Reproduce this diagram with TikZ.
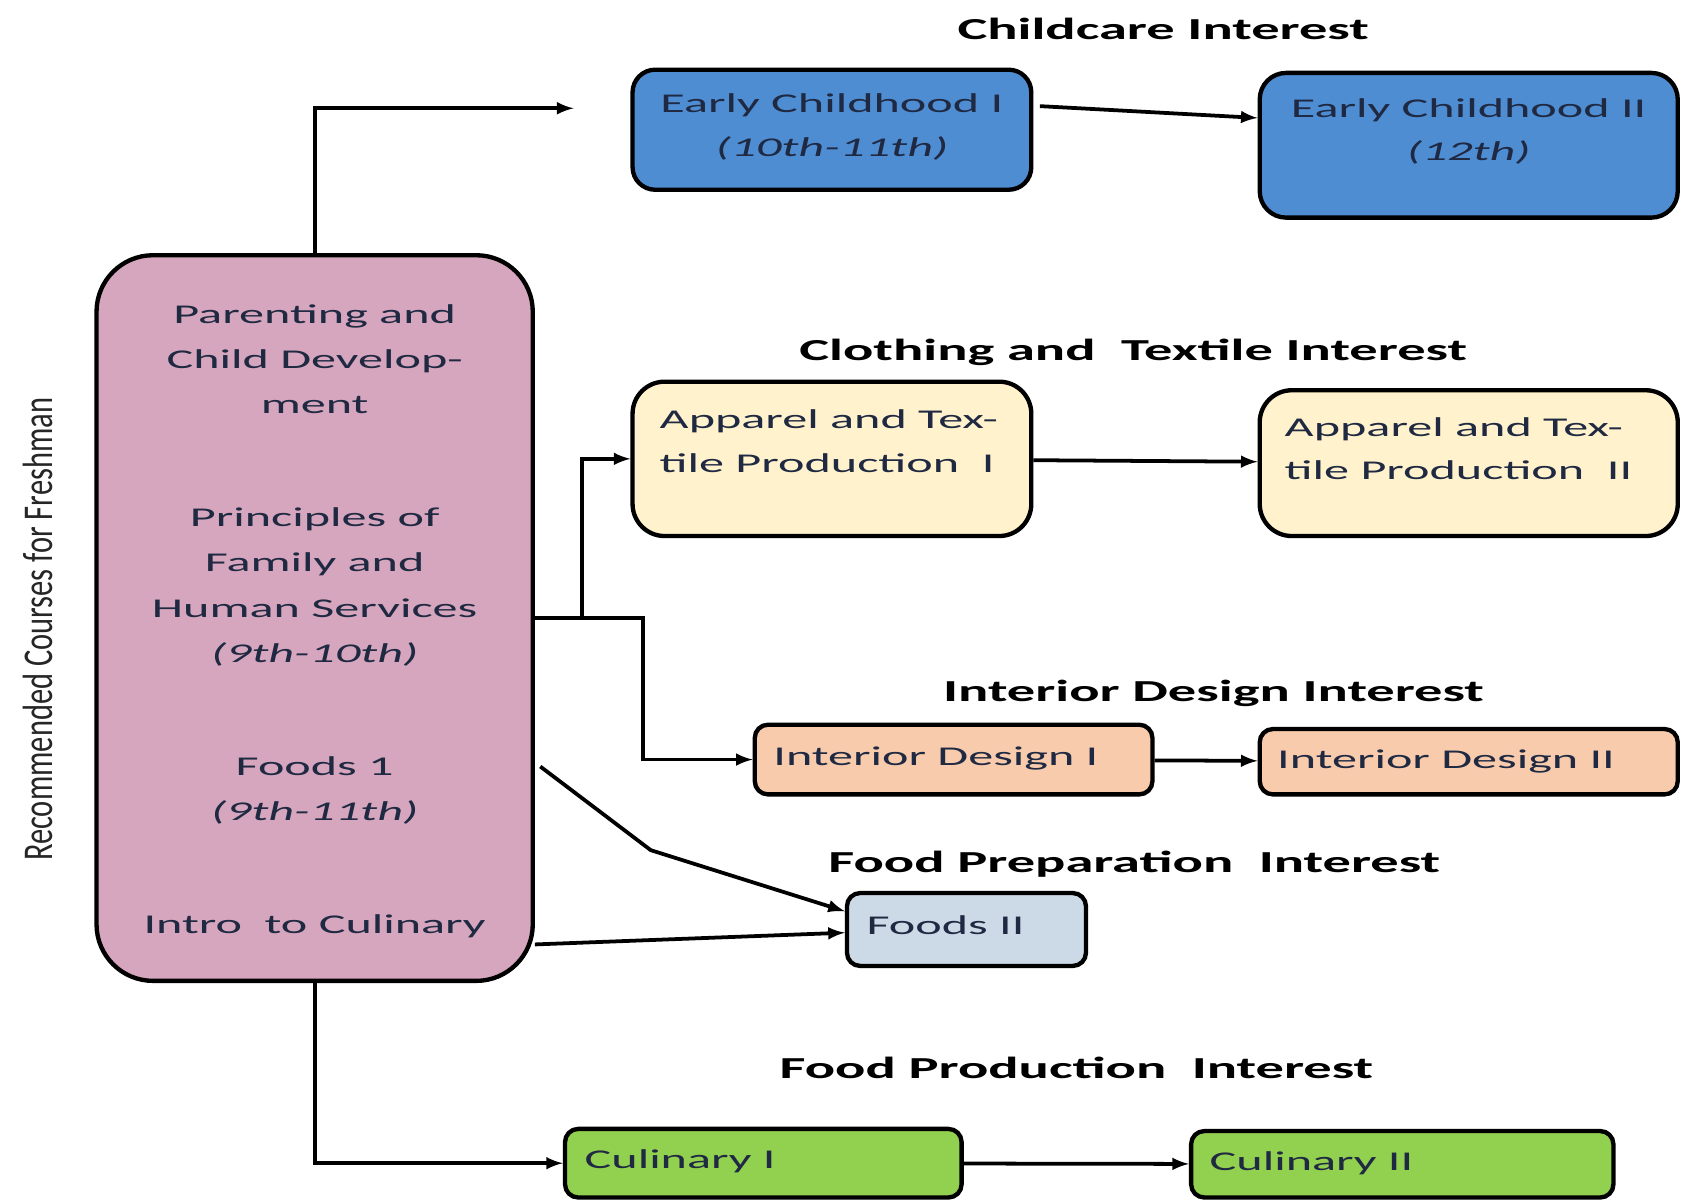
\documentclass[tikz,border=0pt]{standalone}
\usepackage{fontspec}
\setmainfont{Carlito}[FakeStretch=1.85]
\newfontfamily\sidefont{Carlito}[FakeStretch=0.72]
\usetikzlibrary{arrows}

\definecolor{ink}{RGB}{31,41,66}
\definecolor{ecblue}{RGB}{79,141,211}
\definecolor{cream}{RGB}{255,242,204}
\definecolor{mauve}{RGB}{213,166,189}
\definecolor{peach}{RGB}{248,203,173}
\definecolor{steel}{RGB}{204,218,232}
\definecolor{lime}{RGB}{146,208,80}

\tikzset{
  course/.style={draw=black, line width=2.3pt, rounded corners=7pt, inner sep=0pt},
  txt/.style={font=\fontsize{14.4}{23}\selectfont, text=ink, inner sep=0pt, align=center},
  head/.style={font=\fontsize{16.2}{20}\selectfont\bfseries, inner sep=0pt},
  link/.style={->, >=latex, line width=2pt}
}

\begin{document}
\begin{tikzpicture}[x=0.02cm, y=0.02cm]
    \useasboundingbox (0,0) rectangle (1568,-1119);
    % freshman courses
    \node[course, fill=mauve, rounded corners=30pt, minimum width=8.14cm, minimum height=13.54cm] (pcd) at (293.5,-576.5) {};
    \node[txt, font=\fontsize{14.4}{24}\selectfont] (pcdtxt) at ([yshift=-0.06cm]pcd.center) {Parenting and\\Child Develop-\\ment\\[36pt]Principles of\\Family and\\Human Services\\\textit{(9th-10th)}\\[36pt]Foods 1\\\textit{(9th-11th)}\\[36pt]Intro~ to Culinary};
    \node[rotate=90, font=\sidefont\fontsize{22.5}{26}\selectfont, text=black!85, inner sep=0pt] (side) at (35,-587) {Recommended Courses for Freshman};
    % interest headings
    \node[head] (care) at (1085,-27) {Childcare Interest};
    \node[head] (cloth) at (1057,-329) {Clothing and~ Textile Interest};
    \node[head] (inter) at (1132,-647) {Interior Design Interest};
    \node[head] (prep) at (1058,-806) {Food Preparation~ Interest};
    \node[head] (prod) at (1004,-996) {Food Production~ Interest};
    % course boxes
    \node[course, fill=ecblue, rounded corners=12pt, minimum width=7.44cm, minimum height=2.24cm] (ec1) at (776,-121) {};
    \node[course, fill=ecblue, rounded corners=14pt, minimum width=7.8cm, minimum height=2.7cm] (ec2) at (1370,-135.5) {};
    \node[course, fill=cream, rounded corners=17pt, minimum width=7.44cm, minimum height=2.88cm] (app1) at (776,-428) {};
    \node[course, fill=cream, rounded corners=17pt, minimum width=7.8cm, minimum height=2.72cm] (app2) at (1370,-432) {};
    \node[course, fill=peach, minimum width=7.42cm, minimum height=1.3cm] (id1) at (889.5,-708.5) {};
    \node[course, fill=peach, minimum width=7.8cm, minimum height=1.22cm] (id2) at (1370,-710.5) {};
    \node[course, fill=steel, minimum width=4.46cm, minimum height=1.36cm] (f2) at (901.5,-867) {};
    \node[course, fill=lime, minimum width=7.4cm, minimum height=1.28cm] (cul1) at (712,-1085) {};
    \node[course, fill=lime, minimum width=7.88cm, minimum height=1.24cm] (cul2) at (1308,-1086) {};
    % box texts
    \node[txt] (ec1txt) at ([yshift=0.05cm]ec1.center) {Early Childhood I\\\textit{(10th-11th)}};
    \node[txt] (ec2txt) at ([yshift=0.26cm]ec2.center) {Early Childhood II\\\textit{(12th)}};
    \node[txt, align=left, anchor=west] (app1txt) at ([xshift=0.54cm,yshift=0.33cm]app1.west) {Apparel and Tex-\\tile Production~ I};
    \node[txt, align=left, anchor=west] (app2txt) at ([xshift=0.5cm,yshift=0.27cm]app2.west) {Apparel and Tex-\\tile Production~ II};
    \node[txt, anchor=west] (id1txt) at ([xshift=0.38cm,yshift=0.02cm]id1.west) {Interior Design I};
    \node[txt, anchor=west] (id2txt) at ([xshift=0.36cm]id2.west) {Interior Design II};
    \node[txt, anchor=west] (f2txt) at ([xshift=0.4cm,yshift=0.08cm]f2.west) {Foods II};
    \node[txt, anchor=west] (cul1txt) at ([xshift=0.4cm,yshift=0.03cm]cul1.west) {Culinary I};
    \node[txt, anchor=west] (cul2txt) at ([xshift=0.38cm,yshift=0.01cm]cul2.west) {Culinary II};
    % connectors
    \coordinate (ecend) at (535,-101);
    \coordinate (split) at (600,-576.5);
    \coordinate (fork) at (543,-576.5);
    \coordinate (kink) at (607,-793);
    \draw[link] (pcd.north) |- (ecend);
    \draw[link] ([xshift=0.12cm,yshift=0.44cm]ec1.east) -- ([yshift=0.51cm]ec2.west);
    \draw[link] (app1) -- (app2);
    \draw[link] (pcd.east) -- (split) |- (id1.west);
    \draw[link] (fork) |- (app1.west);
    \draw[link] (id1) -- (id2);
    \draw[link] ([xshift=0.1cm,yshift=-2.77cm]pcd.east) -- (kink) -- ([yshift=0.34cm]f2.west);
    \draw[link] ([yshift=-6.09cm]pcd.east) -- ([yshift=-0.06cm]f2.west);
    \draw[link] (pcd.south) |- (cul1.west);
    \draw[link] (cul1) -- (cul2);
\end{tikzpicture}
\end{document}
